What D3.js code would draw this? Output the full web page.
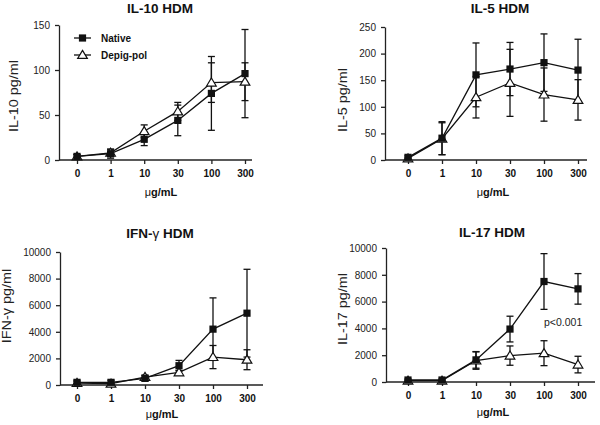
<!DOCTYPE html>
<html><head><meta charset="utf-8">
<script src="https://cdn.jsdelivr.net/npm/d3@7"></script>
<style>body{margin:0;background:#fff} svg{font-family:"Liberation Sans",Arial,sans-serif}</style>
</head><body><svg id="c" width="600" height="425"></svg>
<script>
// ---- data ----
const categories = ["0", "1", "10", "30", "100", "300"];
const seriesNames = ["Native", "Depig-pol"];

const il10Native    = [4, 7, 23, 44, 74, 96];
const il10NativeErr = [2, 5, 7, 17, 41, 49];
const il10Depig     = [4, 8, 32, 54, 86, 87];
const il10DepigErr  = [2, 4, 7, 10, 22, 21];
const il10Ticks     = [0, 50, 100, 150];

const il5Native    = [5, 41, 160, 171, 183, 169];
const il5NativeErr = [3, 31, 60, 50, 54, 58];
const il5Depig     = [3, 40, 118, 145, 123, 113];
const il5DepigErr  = [2, 30, 39, 63, 50, 38];
const il5Ticks     = [0, 50, 100, 150, 200, 250];

const ifnNative    = [200, 200, 500, 1450, 4200, 5400];
const ifnNativeErr = [150, 150, 200, 400, 2350, 3300];
const ifnDepig     = [150, 100, 600, 950, 2100, 1900];
const ifnDepigErr  = [100, 80, 150, 150, 870, 750];
const ifnTicks     = [0, 2000, 4000, 6000, 8000, 10000];

const il17Native    = [150, 150, 1650, 3950, 7500, 6950];
const il17NativeErr = [80, 80, 620, 960, 2080, 1140];
const il17Depig     = [100, 100, 1600, 1970, 2150, 1300];
const il17DepigErr  = [60, 60, 650, 720, 930, 620];
const il17Ticks     = [0, 2000, 4000, 6000, 8000, 10000];

// ---- layout ----
const panels = [
  {title:["IL-10 HDM"], ylabel:"IL-10 pg/ml", ticks:il10Ticks,
   nat:il10Native, natErr:il10NativeErr, dep:il10Depig, depErr:il10DepigErr,
   L:{ax:59, y0:160, yTop:25, x0:77, x1:245, xEnd:252, tx:160, ty:13, ylx:18, yly:96, xly:196}, legend:true},
  {title:["IL-5 HDM"], ylabel:"IL-5 pg/ml", ticks:il5Ticks,
   nat:il5Native, natErr:il5NativeErr, dep:il5Depig, depErr:il5DepigErr,
   L:{ax:385, y0:160, yTop:27, x0:408, x1:578, xEnd:587, tx:500, ty:13, ylx:347, yly:100, xly:196}},
  {title:["IFN-", "γ", " HDM"], ylabel:"IFN-γ pg/ml", ticks:ifnTicks,
   nat:ifnNative, natErr:ifnNativeErr, dep:ifnDepig, depErr:ifnDepigErr,
   L:{ax:60, y0:385, yTop:252, x0:77, x1:247, xEnd:263, tx:160, ty:238, ylx:11, yly:306, xly:418}},
  {title:["IL-17 HDM"], ylabel:"IL-17 pg/ml", ticks:il17Ticks,
   nat:il17Native, natErr:il17NativeErr, dep:il17Depig, depErr:il17DepigErr,
   L:{ax:386, y0:382, yTop:248, x0:408, x1:578, xEnd:595, tx:492, ty:237, ylx:347, yly:309, xly:416},
   note:{text:"p<0.001", x:544, y:326}}
];

const svg = d3.select("#c");
const SW = 1.3;

function square(g, x, y){
  g.append("rect").attr("x", x-3.6).attr("y", y-3.6).attr("width", 7.2).attr("height", 7.2).attr("fill", "#111");
}
function triangle(g, x, y){
  const h = 4.6;
  g.append("path").attr("d", `M${x},${y-h}L${x+h*1.05},${y+h*0.75}L${x-h*1.05},${y+h*0.75}Z`)
   .attr("fill", "#fff").attr("stroke", "#111").attr("stroke-width", 1.2);
}

panels.forEach(p => {
  const L = p.L;
  const g = svg.append("g");
  const y = d3.scaleLinear().domain([0, p.ticks[p.ticks.length-1]]).range([L.y0, L.yTop]);
  const x = d3.scalePoint().domain(categories).range([L.x0, L.x1]);

  // y axis
  const ya = g.append("g").attr("transform", `translate(${L.ax},0)`)
    .call(d3.axisLeft(y).tickValues(p.ticks).tickSize(4).tickSizeOuter(0).tickPadding(5).tickFormat(d3.format("d")));
  ya.selectAll("path,line").attr("stroke", "#222").attr("stroke-width", SW);
  ya.selectAll("text").attr("font-size", 10).attr("fill", "#222").attr("font-family", "Liberation Sans, Arial, sans-serif");

  // x axis
  g.append("line").attr("x1", L.ax).attr("x2", L.xEnd).attr("y1", L.y0).attr("y2", L.y0)
    .attr("stroke", "#222").attr("stroke-width", SW);
  const xa = g.append("g").attr("transform", `translate(0,${L.y0})`)
    .call(d3.axisBottom(x).tickSize(4).tickPadding(6));
  xa.select(".domain").remove();
  xa.selectAll("line").attr("stroke", "#222").attr("stroke-width", SW);
  xa.selectAll("text").attr("font-size", 10).attr("font-weight", "bold").attr("fill", "#111")
    .attr("font-family", "Liberation Sans, Arial, sans-serif");

  // title
  const t = g.append("text").attr("x", L.tx).attr("y", L.ty).attr("text-anchor", "middle")
    .attr("font-size", 13.5).attr("font-weight", "bold").attr("fill", "#111");
  p.title.forEach(s => {
    const ts = t.append("tspan").text(s);
    if (s === "γ") ts.attr("font-weight", "normal");
  });

  // y label
  g.append("text").attr("transform", `translate(${L.ylx},${L.yly}) rotate(-90) scale(1.2,1)`)
    .attr("text-anchor", "middle").attr("font-size", 12).attr("fill", "#222").text(p.ylabel);

  // x label
  const xl = g.append("text").attr("x", (L.x0+L.x1)/2).attr("y", L.xly).attr("text-anchor", "middle")
    .attr("font-size", 11).attr("fill", "#111");
  xl.append("tspan").text("μ").attr("font-weight", "normal");
  xl.append("tspan").text("g/mL").attr("font-weight", "bold");

  const line = d3.line().x((d,i) => x(categories[i])).y(d => y(d));

  [[p.dep, p.depErr], [p.nat, p.natErr]].forEach(([vals, errs]) => {
    g.append("path").attr("d", line(vals)).attr("fill", "none").attr("stroke", "#111").attr("stroke-width", SW);
    vals.forEach((v, i) => {
      const cx = x(categories[i]);
      const lo = y(Math.max(0, v - errs[i])), hi = y(v + errs[i]);
      g.append("line").attr("x1", cx).attr("x2", cx).attr("y1", lo).attr("y2", hi).attr("stroke", "#111").attr("stroke-width", SW);
      [lo, hi].forEach(yy => g.append("line").attr("x1", cx-3.5).attr("x2", cx+3.5).attr("y1", yy).attr("y2", yy)
        .attr("stroke", "#111").attr("stroke-width", SW));
    });
  });
  p.dep.forEach((v, i) => triangle(g, x(categories[i]), y(v)));
  p.nat.forEach((v, i) => square(g, x(categories[i]), y(v)));

  if (p.legend) {
    const lx1 = 74, lx2 = 91, ly = [38, 55];
    seriesNames.forEach((name, k) => {
      g.append("line").attr("x1", lx1).attr("x2", lx2).attr("y1", ly[k]).attr("y2", ly[k]).attr("stroke", "#111").attr("stroke-width", SW);
      if (k === 0) square(g, (lx1+lx2)/2, ly[k]); else triangle(g, (lx1+lx2)/2, ly[k]);
      g.append("text").attr("x", 101).attr("y", ly[k] + 3.6).attr("font-size", 10).attr("font-weight", "bold")
        .attr("fill", "#111").text(name);
    });
  }
  if (p.note) {
    g.append("text").attr("x", p.note.x).attr("y", p.note.y).attr("font-size", 10.5).attr("fill", "#222").text(p.note.text);
  }
});
</script></body></html>
